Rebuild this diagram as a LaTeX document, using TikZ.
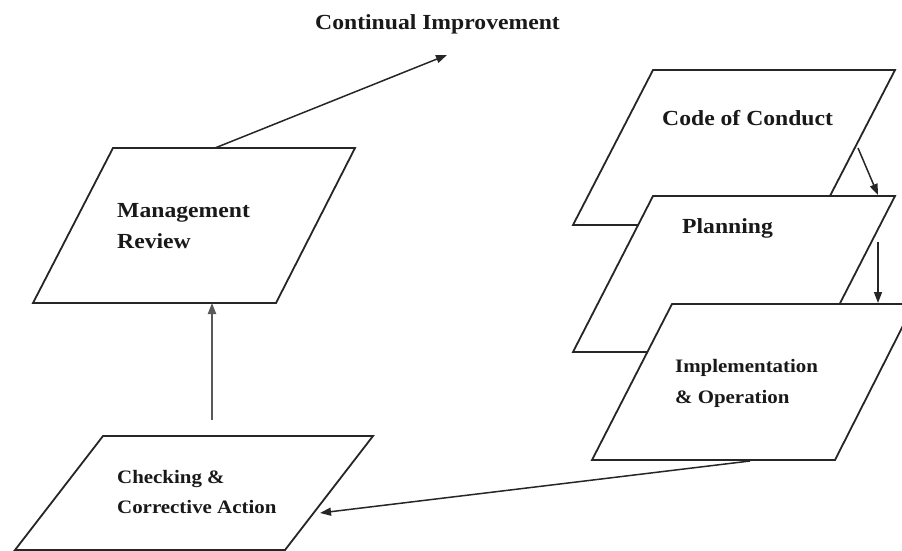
\documentclass[tikz,border=0pt]{standalone}
\usepackage{fontspec}
\setmainfont{Liberation Serif}[FakeStretch=1.1]
\usetikzlibrary{arrows.meta}
\begin{document}
\begin{tikzpicture}[x=1pt,y=-1pt,
  box/.style={draw=black!85, line width=1.8pt, fill=white, line join=miter},
  lbl/.style={anchor=base west, inner sep=0pt, text=black!90,
    font=\bfseries\fontsize{21.5}{26}\selectfont},
  lblsm/.style={lbl, font=\bfseries\fontsize{19}{23}\selectfont},
  link/.style={draw=black!85, line width=1.5pt, -{Triangle[length=11pt,width=8pt]}},
  uplink/.style={link, draw=black!65, line width=2pt}]
\useasboundingbox (0,0) rectangle (902,551);
\clip (0,0) rectangle (902,551);

% left column: review and checking
\draw[box] (113,148) -- (355,148) -- (276,303) -- (33,303) -- cycle;
\draw[box] (103,436) -- (373,436) -- (285,550) -- (15,550) -- cycle;

% right column: stacked sheets, back to front
\draw[box] (653,70) -- (895,70) -- (815,225) -- (573,225) -- cycle;
\draw[box] (653,196) -- (895,196) -- (815,352) -- (573,352) -- cycle;
\draw[box] (672,304) -- (914,304) -- (835,460) -- (592,460) -- cycle;

% labels
\node[lbl] (ci) at (315,30) {Continual Improvement};
\node[lbl] (mr1) at (117,217) {Management};
\node[lbl] (mr2) at (117,248) {Review};
\node[lbl] (cc) at (662,125) {Code of Conduct};
\node[lbl] (pl) at (682,233) {Planning};
\node[lblsm] (io1) at (675,372) {Implementation};
\node[lblsm] (io2) at (675,403) {\& Operation};
\node[lblsm] (ck1) at (117,483) {Checking \&};
\node[lblsm] (ck2) at (117,513) {Corrective Action};

% connector end points
\coordinate (mrTop) at (215,148);
\coordinate (ciEnd) at (447,55);
\coordinate (ckStart) at (212,420);
\coordinate (mrBottom) at (212,303);
\coordinate (ccEdge) at (858,148);
\coordinate (plTop) at (878,195);
\coordinate (plEdge) at (878,242);
\coordinate (ioTop) at (878,303);
\coordinate (ioBottom) at (750,461);
\coordinate (ckEdge) at (320,513);

% connectors
\draw[link] (mrTop) -- (ciEnd);
\draw[uplink] (ckStart) -- (mrBottom);
\draw[link] (ccEdge) -- (plTop);
\draw[link] (plEdge) -- (ioTop);
\draw[link] (ioBottom) -- (ckEdge);
\end{tikzpicture}
\end{document}
